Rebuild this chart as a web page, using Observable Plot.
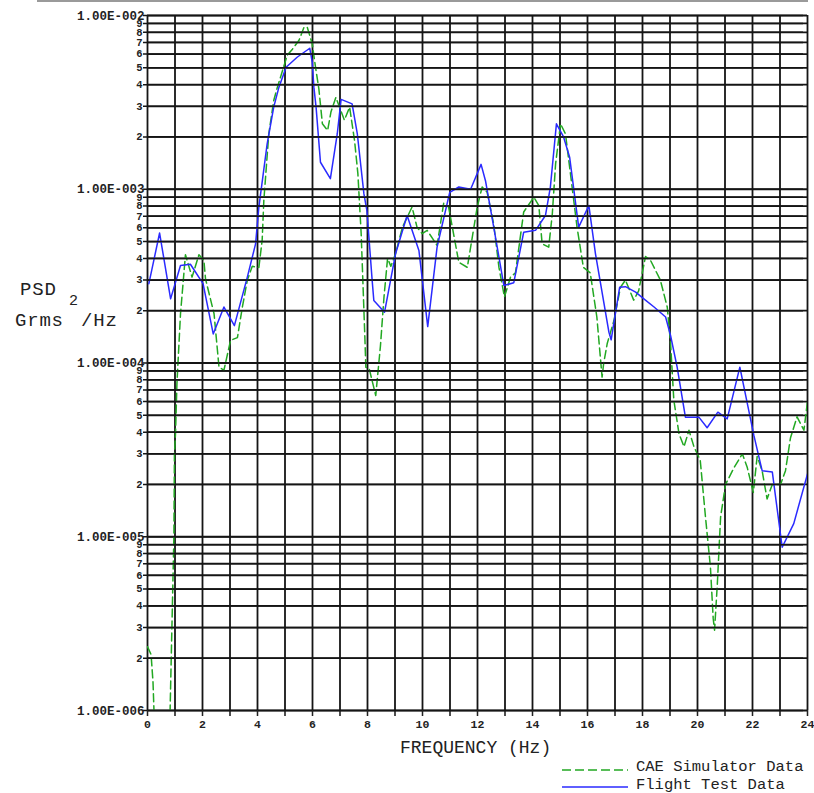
<!DOCTYPE html>
<html>
<head>
<meta charset="utf-8">
<script src="https://cdn.jsdelivr.net/npm/d3@7"></script>
<script src="https://cdn.jsdelivr.net/npm/@observablehq/plot@0.6"></script>
<style>
  body { margin: 0; background: #fff; }
  #wrap { position: relative; width: 814px; height: 793px; overflow: hidden; font-family: "Liberation Mono", "DejaVu Sans Mono", monospace; }
  #topline { position: absolute; left: 37px; top: 0; width: 771px; height: 2px; background: #9a9a9a; }
  .lab { position: absolute; color: #222; white-space: pre; }
</style>
</head>
<body>
<div id="wrap">
  <div id="chart"></div>
  <div id="topline"></div>
  <div class="lab" style="left:20px; top:279px; font-size:19px; letter-spacing:0.8px;">PSD</div>
  <div class="lab" style="left:69px; top:293px; font-size:15px;">2</div>
  <div class="lab" style="left:15px; top:310px; font-size:19px; letter-spacing:0.8px;">Grms</div>
  <div class="lab" style="left:81px; top:310px; font-size:19px; letter-spacing:0.8px;">/Hz</div>
  <div class="lab" style="left:400px; top:738px; font-size:18px;">FREQUENCY (Hz)</div>
  <svg style="position:absolute; left:560px; top:758px;" width="80" height="35">
    <line x1="2" x2="68" y1="12" y2="12" stroke="#22a822" stroke-width="1.6" stroke-dasharray="9,4"></line>
    <line x1="2" x2="68" y1="29" y2="29" stroke="#2a2aff" stroke-width="1.6"></line>
  </svg>
  <div class="lab" style="left:636px; top:758px; font-size:15.5px;">CAE Simulator Data</div>
  <div class="lab" style="left:636px; top:776px; font-size:15.5px;">Flight Test Data</div>
</div>
<script>
// Flight Test Data (solid blue)
const flightFreq = [0.05,0.44,0.84,1.2,1.56,2.02,2.39,2.78,3.16,3.63,3.93,4.05,4.35,4.59,4.78,5.04,5.44,5.9,5.99,6.05,6.13,6.29,6.65,6.9,7.04,7.44,7.63,7.87,7.98,8.17,8.23,8.62,9.02,9.44,9.87,10.19,10.53,10.99,11.32,11.75,12.13,12.29,12.59,12.96,13.32,13.68,14.11,14.47,14.65,14.87,15.13,15.35,15.68,16.05,16.29,16.78,16.86,17.17,17.38,17.75,18.05,18.42,18.84,19.02,19.26,19.56,20.05,20.35,20.74,21.08,21.54,22.05,22.35,22.72,23.08,23.5,24.0];
const flightPsd = [2.86e-4,5.6e-4,2.34e-4,3.64e-4,3.7e-4,2.86e-4,1.47e-4,2.1e-4,1.64e-4,3.12e-4,4.85e-4,7.9e-4,1.82e-3,2.97e-3,3.87e-3,5.04e-3,5.75e-3,6.48e-3,5.4e-3,3.87e-3,2.97e-3,1.43e-3,1.15e-3,2.08e-3,3.29e-3,3.1e-3,2.08e-3,9.4e-4,7.5e-4,2.98e-4,2.29e-4,1.96e-4,4.25e-4,7.06e-4,4.44e-4,1.62e-4,4.64e-4,9.6e-4,1.03e-3,1.0e-3,1.39e-3,1.12e-3,6.05e-4,2.79e-4,2.9e-4,5.66e-4,5.8e-4,7.06e-4,1.03e-3,2.38e-3,2.0e-3,1.53e-3,6.05e-4,8.06e-4,4.25e-4,1.5e-4,1.36e-4,2.73e-4,2.75e-4,2.56e-4,2.34e-4,2.1e-4,1.84e-4,1.44e-4,9.46e-5,4.88e-5,4.88e-5,4.24e-5,5.21e-5,4.77e-5,9.46e-5,3.83e-5,2.4e-5,2.36e-5,8.7e-6,1.19e-5,2.3e-5];

// CAE Simulator Data (dashed green)
const caeFreq = [0,0.13,0.2,0.3,0.78,0.96,0.98,1.02,1.07,1.2,1.38,1.62,1.87,2.05,2.11,2.42,2.6,2.78,3.02,3.27,3.45,3.63,3.81,4.05,4.17,4.23,4.41,4.59,4.71,5.08,5.27,5.51,5.69,5.81,5.99,6.11,6.23,6.36,6.55,6.67,6.85,7.16,7.35,7.53,7.65,7.77,7.9,7.94,8.06,8.3,8.47,8.6,8.73,8.85,9.02,9.27,9.5,9.62,9.8,9.99,10.17,10.53,10.77,10.95,11.32,11.63,11.99,12.17,12.35,12.59,12.78,12.98,13.2,13.38,13.68,14.05,14.23,14.35,14.59,14.72,14.84,15.02,15.2,15.38,15.62,15.85,16.1,16.34,16.53,16.59,16.72,16.96,17.2,17.38,17.68,17.86,18.11,18.29,18.65,18.9,19.02,19.14,19.33,19.51,19.69,19.87,20.1,20.29,20.47,20.57,20.62,20.72,20.84,21.02,21.33,21.63,21.81,22.03,22.17,22.35,22.53,22.72,23.02,23.2,23.38,23.62,23.87,24.0];
const caePsd = [2.33e-6,2.1e-6,1.46e-6,5e-7,5e-7,1e-5,3e-5,4e-5,7.6e-5,1.92e-4,4.2e-4,3.12e-4,4.2e-4,3.9e-4,3.05e-4,1.92e-4,9.46e-5,9.1e-5,1.35e-4,1.4e-4,2.1e-4,3.0e-4,3.6e-4,3.55e-4,5.1e-4,8.6e-4,2.08e-3,3.24e-3,3.8e-3,5.9e-3,6.4e-3,7.2e-3,8.56e-3,8.56e-3,6.87e-3,5.04e-3,3.8e-3,2.38e-3,2.18e-3,2.78e-3,3.38e-3,2.5e-3,2.97e-3,1.9e-3,1.23e-3,5.55e-4,1.47e-4,9.46e-5,9.3e-5,6.5e-5,1.25e-4,2.4e-4,4.0e-4,3.6e-4,4.25e-4,6.05e-4,7.2e-4,7.9e-4,6.05e-4,5.55e-4,5.8e-4,4.75e-4,8.3e-4,7.9e-4,3.8e-4,3.55e-4,7.9e-4,1.03e-3,9.6e-4,6.3e-4,3.55e-4,2.4e-4,3.12e-4,3.3e-4,7.4e-4,9e-4,8.06e-4,4.85e-4,4.64e-4,7.2e-4,1.4e-3,2.38e-3,2.08e-3,1.23e-3,6.05e-4,3.55e-4,3.3e-4,1.84e-4,8.3e-5,1.0e-4,1.3e-4,1.75e-4,2.73e-4,3.0e-4,2.3e-4,2.6e-4,4.1e-4,3.9e-4,3.0e-4,2.1e-4,1.3e-4,6.1e-5,3.9e-5,3.3e-5,4.1e-5,3.3e-5,2.75e-5,1.3e-5,6.7e-6,3.4e-6,2.9e-6,5.3e-6,1.3e-5,2.0e-5,2.5e-5,3.0e-5,2.5e-5,1.8e-5,2.9e-5,2.4e-5,1.65e-5,2.0e-5,2.0e-5,2.4e-5,3.7e-5,4.9e-5,4.1e-5,6.0e-5];

// Axis ticks
const xGrid = d3.range(0, 25, 1);
const xLabels = d3.range(0, 25, 2);
const decadeExps = [-6, -5, -4, -3, -2];
const minorDigits = [2, 3, 4, 5, 6, 7, 8, 9];

const decades = decadeExps.map(e => Math.pow(10, e));
const minors = decadeExps.slice(0, -1).flatMap(e => minorDigits.map(m => ({v: m * Math.pow(10, e), t: String(m)})));
const yGrid = decades.concat(minors.map(d => d.v));
const decadeLabels = decadeExps.map(e => ({v: Math.pow(10, e), t: "1.00E-" + String(-e).padStart(3, "0")}));

const flight = flightFreq.map((f, i) => ({f, v: flightPsd[i]}));
const cae = caeFreq.map((f, i) => ({f, v: caePsd[i]}));

const FONT = "Liberation Mono, DejaVu Sans Mono, monospace";

const chart = Plot.plot({
  width: 814,
  height: 793,
  marginTop: 15,
  marginBottom: 83,
  marginLeft: 147,
  marginRight: 7,
  style: {fontFamily: FONT, color: "#222", background: "transparent", overflow: "visible"},
  x: {domain: [0, 24], label: null},
  y: {type: "log", domain: [1e-6, 1e-2], label: null, axis: null},
  marks: [
    Plot.ruleY(yGrid, {stroke: "#151515", strokeWidth: 1.8}),
    Plot.ruleX(xGrid, {stroke: "#151515", strokeWidth: 1.8}),
    Plot.line(cae, {x: "f", y: "v", stroke: "#22a822", strokeWidth: 1.5, strokeDasharray: "8,4", clip: true}),
    Plot.line(flight, {x: "f", y: "v", stroke: "#2a2aff", strokeWidth: 1.5, clip: true}),
    Plot.tickY(yGrid, {y: d => d, frameAnchor: "left", dx: -4, stroke: "#151515", strokeWidth: 1.5}),
    Plot.text(decadeLabels, {y: "v", text: "t", frameAnchor: "left", dx: -3, textAnchor: "end", fontSize: 12.5, fontWeight: "bold", fill: "#222"}),
    Plot.text(minors, {y: "v", text: "t", frameAnchor: "left", dx: -5, textAnchor: "end", fontSize: 10.5, fontWeight: "bold", fill: "#222"}),
    Plot.axisX({ticks: xGrid, tickFormat: () => "", tickSize: 6, stroke: "#151515", strokeWidth: 1.5, label: null}),
    Plot.axisX({ticks: xLabels, tickFormat: d => String(d), tickSize: 6, tickPadding: 3, fontSize: 11.5, fontWeight: "bold", label: null})
  ]
});
document.getElementById("chart").appendChild(chart);
</script>
</body>
</html>
